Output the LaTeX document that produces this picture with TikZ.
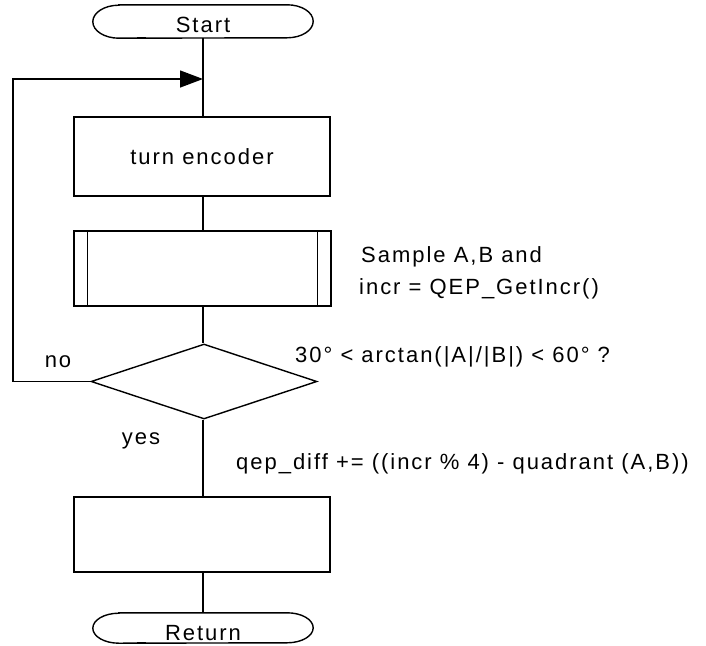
\documentclass[tikz,border=0pt]{standalone}
\usepackage{fontspec}
\setmainfont{Liberation Sans}[LetterSpace=9]
\usetikzlibrary{arrows.meta,shapes.geometric}
\begin{document}
\begin{tikzpicture}[x=1pt,y=1pt,
  line/.style={line width=1.4pt},
  box/.style={draw,line width=1.4pt,minimum width=256pt,inner sep=0pt,font=\fontsize{22}{28}\selectfont},
  termbox/.style={minimum width=220pt,inner sep=0pt,draw=none},
  lbl/.style={inner sep=0pt,font=\fontsize{22}{28}\selectfont},
  decision/.style={diamond,draw,line width=1.4pt,minimum width=226pt,minimum height=75pt,inner sep=0pt,aspect=3}]
\useasboundingbox (0,0) rectangle (706,-645);

% Start terminal
\node[termbox,minimum height=33pt] (start) at (203,-21.5) {};
\draw[line] ([xshift=26pt]start.north west) -- ([xshift=-26pt]start.north east)
  arc[start angle=90,end angle=-90,x radius=26,y radius=16.5]
  -- ([xshift=26pt]start.south west)
  arc[start angle=270,end angle=90,x radius=26,y radius=16.5] -- cycle;
\draw[line width=2.4pt] ([xshift=44pt]start.south west) -- ([xshift=53pt]start.south west);
\node[lbl,anchor=base] (starttxt) at (203,-32) {Start};

% turn encoder
\node[box,minimum height=79pt] (turn) at (202,-156.5) {turn encoder};

% subroutine box
\node[box,minimum height=75pt,minimum width=257pt] (sub) at (202.5,-268.5) {};
\draw[line] ([xshift=14pt]sub.north west) -- ([xshift=14pt]sub.south west);
\draw[line] ([xshift=-14pt]sub.north east) -- ([xshift=-14pt]sub.south east);

% decision
\node[decision] (dec) at (204,-381.5) {};

% empty box
\node[box,minimum height=75pt] (act) at (202,-534.5) {};

% Return terminal
\node[termbox,minimum height=30pt] (ret) at (203,-628) {};
\draw[line] ([xshift=26pt]ret.north west) -- ([xshift=-26pt]ret.north east)
  arc[start angle=90,end angle=-90,x radius=26,y radius=15]
  -- ([xshift=26pt]ret.south west)
  arc[start angle=270,end angle=90,x radius=26,y radius=15] -- cycle;
\draw[line width=2.4pt] ([xshift=44pt]ret.south west) -- ([xshift=53pt]ret.south west);
\node[lbl,anchor=base] (rettxt) at (203,-640) {Return};

% connectors
\coordinate (join) at (203,-79);
\coordinate (loopL) at (13,-381.5);
\coordinate (loopT) at (13,-79);
\draw[line] (start.south -| join) -- (turn.north -| join);
\draw[line] (turn.south -| join) -- (sub.north -| join);
\draw[line] (sub.south -| join) -- (dec.north -| join);
\draw[line] (dec.south -| join) -- (act.north -| join);
\draw[line] (act.south -| join) -- (ret.north -| join);
\draw[line,-{Triangle[length=23pt,width=17pt]}] (dec.west) -- (loopL) -- (loopT) -- (join);

% labels
\node[lbl,anchor=base] (no) at (58,-367) {no};
\node[lbl,anchor=base] (yes) at (141,-444) {yes};
\node[lbl,anchor=base west] (s1) at (361,-262) {Sample A,B and};
\node[lbl,anchor=base west] (s2) at (359,-294) {incr = QEP\_GetIncr()};
\node[lbl,anchor=base west] (cond) at (295,-362) {30° < arctan(|A|/|B|) < 60° ?};
\node[lbl,anchor=base west] (qep) at (236,-469) {qep\_diff += ((incr \% 4) - quadrant (A,B))};
\end{tikzpicture}
\end{document}
